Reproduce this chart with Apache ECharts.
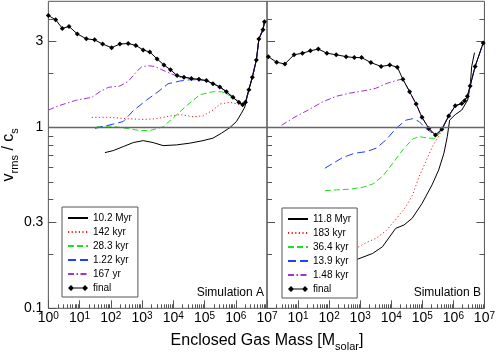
<!DOCTYPE html>
<html><head><meta charset="utf-8">
<script src="https://cdn.jsdelivr.net/npm/echarts@6/dist/echarts.min.js"></script>
<style>html,body{margin:0;padding:0;background:#fff}#c{width:498px;height:355px}</style>
</head><body><div id="c"></div>
<script>
// ---------- Simulation A ----------
const mA_final = [1, 1.72, 2.8, 4.58, 8.45, 16.4, 30.3, 54.7, 106, 195, 360, 631, 1084, 1774, 3020, 5010, 8130, 13200, 21900, 38000, 66100, 1.15e5, 1.86e5, 3.09e5, 5.01e5, 8.13e5, 1.26e6, 1.66e6, 2.04e6, 2.63e6, 3.39e6, 4.57e6, 5.5e6, 7.41e6, 8.32e6];
const vA_final = [4.17, 3.95, 3.54, 3.63, 3.30, 3.10, 3.06, 2.90, 2.77, 2.90, 2.92, 2.85, 2.69, 2.62, 2.40, 2.22, 2.09, 1.94, 1.90, 1.87, 1.85, 1.82, 1.75, 1.68, 1.58, 1.47, 1.38, 1.34, 1.38, 1.62, 1.90, 2.37, 3.09, 3.48, 3.85];
const mA_167yr = [1, 2.09, 8.07, 24.4, 44.7, 82.6, 195, 360, 667, 977, 1567, 2570, 4270, 7760, 16200];
const vA_167yr = [1.25, 1.32, 1.42, 1.47, 1.58, 1.67, 1.70, 1.80, 2.04, 2.17, 2.20, 2.18, 2.09, 2.00, 1.90];
const mA_1kyr = [31, 93.5, 249, 520, 1393, 3266, 6823, 16200, 33900, 70800];
const vA_1kyr = [0.99, 1.035, 1.08, 1.24, 1.42, 1.58, 1.75, 1.81, 1.84, 1.84];
const mA_28kyr = [35.2, 93.5, 320, 851, 1778, 4721, 9863, 26300, 70800, 1.86e5, 3.47e5, 5.62e5];
const vA_28kyr = [1.01, 1.02, 0.99, 0.963, 0.963, 1.01, 1.13, 1.32, 1.52, 1.58, 1.58, 1.52];
const mA_142kyr = [24.4, 93.5, 320, 1084, 2884, 7762, 16200, 42700, 89100, 1.86e5, 3.09e5, 6.46e5, 1.17e6];
const vA_142kyr = [1.14, 1.14, 1.12, 1.11, 1.12, 1.16, 1.18, 1.15, 1.16, 1.25, 1.35, 1.38, 1.35];
const mA_10Myr = [64.7, 119, 249, 520, 1084, 2265, 4721, 12600, 33600, 89100, 1.86e5, 3.47e5, 6.46e5, 1.05e6, 1.51e6, 1.95e6];
const vA_10Myr = [0.727, 0.746, 0.785, 0.826, 0.847, 0.826, 0.795, 0.802, 0.82, 0.847, 0.874, 0.931, 1.0, 1.08, 1.20, 1.30];
// index in the "final" curve where each earlier curve merges into it
const joinA = { y167: 18, k1: 21, k28: 25, k142: 27, m10: 29 };

// ---------- Simulation B ----------
const mB_final = [1.1, 2.04, 3.76, 7.45, 13.8, 24.9, 44.9, 84.5, 169, 352, 646, 1109, 2213, 4721, 8954, 15700, 23800, 39000, 63100, 97700, 1.62e5, 2.63e5, 4.27e5, 7.08e5, 1.15e6, 1.86e6, 2.29e6, 2.82e6, 3.47e6, 5.01e6, 9.12e6];
const vB_final = [2.47, 2.30, 2.25, 2.53, 2.58, 2.66, 2.72, 2.58, 2.53, 2.47, 2.44, 2.44, 2.29, 2.18, 2.22, 2.16, 1.85, 1.58, 1.35, 1.14, 0.99, 0.91, 0.98, 1.16, 1.32, 1.36, 1.41, 1.49, 1.70, 2.18, 2.94];
const mB_1kyr = [2.95, 6.92, 20.9, 63.1, 169, 447, 1349, 3162, 7413, 17800];
const vB_1kyr = [1.03, 1.13, 1.25, 1.39, 1.49, 1.55, 1.60, 1.65, 1.76, 1.84];
const mB_13kyr = [72.9, 135, 282, 661, 1567, 3266, 6823, 14200, 29700, 48600, 79400, 1.29e5, 2.14e5, 2.69e5];
const vB_13kyr = [0.596, 0.635, 0.685, 0.721, 0.736, 0.769, 0.855, 0.99, 1.10, 1.12, 1.08, 0.99, 0.93, 0.90];
const mB_36kyr = [72.9, 172, 457, 1230, 2570, 5370, 11200, 23400, 48600, 79400, 1.66e5, 2.69e5];
const vB_36kyr = [0.448, 0.452, 0.456, 0.468, 0.488, 0.540, 0.635, 0.752, 0.865, 0.891, 0.873, 0.873];
const mB_183kyr = [200, 826, 1567, 3266, 6823, 14200, 29700, 48600, 79400, 1.29e5, 2.12e5, 3.44e5];
const vB_183kyr = [0.195, 0.217, 0.231, 0.244, 0.269, 0.311, 0.365, 0.424, 0.536, 0.648, 0.785, 0.90];
const mB_11Myr = [200, 826, 2489, 5200, 13900, 25700, 47200, 98600, 2.06e5, 3.37e5, 4.97e5, 6.38e5, 7.59e5, 1.15e6, 1.86e6, 2.88e6, 3.47e6, 3.89e6, 4.79e6];
const vB_11Myr = [0.17, 0.187, 0.201, 0.219, 0.277, 0.289, 0.315, 0.381, 0.482, 0.583, 0.722, 0.892, 1.10, 1.18, 1.25, 1.42, 1.69, 2.18, 2.60];
const joinB = { k1: 16, k13: 22, k36: 22, k183: 22 };

// ---------- names & ticks ----------
const namesA = ['10.2 Myr', '142 kyr', '28.3 kyr', '1.22 kyr', '167 yr', 'final'];
const namesB = ['11.8 Myr', '183 kyr', '36.4 kyr', '13.9 kyr', '1.48 kyr', 'final'];
const xMajor = [1, 10, 100, 1e3, 1e4, 1e5, 1e6, 1e7];
const xLabelsB = [10, 100, 1e3, 1e4, 1e5, 1e6, 1e7];
const xMinor = [];
for (let k = 0; k < 7; k++) for (let m = 2; m <= 9; m++) xMinor.push(m * Math.pow(10, k));
const yLabels = [0.1, 0.3, 1, 3];
const yMinor = [0.2, 0.4, 0.5, 0.6, 0.7, 0.8, 0.9, 2, 4];

const FONT = 'Liberation Sans';
const AX = '#555';
const zip = (xs, ys) => xs.map((x, i) => [x, ys[i]]);
const joined = (xs, ys, fx, fy, from) => zip(xs, ys).concat(zip(fx, fy).slice(from));

const COL = { black: '#000000', red: '#ff1a1a', green: '#1ee01e', blue: '#2040ff', purple: '#a030e0' };
const DASH = { solid: 'solid', red: [1.2, 2.4], green: [6, 3], blue: [8, 4], purple: [6, 2.5, 1.5, 2.5] };

const xLabel = (vals) => ({
  show: true, customValues: vals, margin: 3, color: '#000',
  formatter: v => '{b|10}{sup|' + Math.round(Math.log10(v)) + '}',
  rich: {
    b: { fontFamily: FONT, fontSize: 14, lineHeight: 14, padding: [4, 0, 0, 0], verticalAlign: 'bottom', color: '#000' },
    sup: { fontFamily: FONT, fontSize: 10, lineHeight: 10, verticalAlign: 'top', color: '#000' }
  }
});

function xAxes(gi, labels) {
  const base = { gridIndex: gi, type: 'log', logBase: 10, min: 1, max: 1e7, position: 'bottom',
    axisLine: { show: false, onZero: false }, splitLine: { show: false }, minorTick: { show: false } };
  return [
    Object.assign({}, base, { axisTick: { show: true, inside: true, length: 8, customValues: xMajor, lineStyle: { color: AX, width: 1 } }, axisLabel: xLabel(labels) }),
    Object.assign({}, base, { axisTick: { show: true, inside: true, length: 4, customValues: xMinor, lineStyle: { color: AX, width: 1 } }, axisLabel: { show: false } })
  ];
}
function yAx(gi, pos, major, showLabel) {
  const base = { gridIndex: gi, type: 'log', logBase: 10, min: 0.1, max: 5, position: pos,
    axisLine: { show: false, onZero: false }, splitLine: { show: false }, minorTick: { show: false } };
  return Object.assign(base, major ? {
    axisTick: { show: true, inside: true, length: 8, customValues: yLabels, lineStyle: { color: AX, width: 1 } },
    axisLabel: showLabel ? { show: true, customValues: yLabels, fontFamily: FONT, fontSize: 14, color: '#000', margin: 5,
      formatter: v => String(+(+v).toPrecision(3)) } : { show: false }
  } : {
    axisTick: { show: true, inside: true, length: 5, customValues: yMinor, lineStyle: { color: AX, width: 1 } },
    axisLabel: { show: false }
  });
}

const yAxes = [yAx(0, 'left', true, true), yAx(0, 'left', false), yAx(1, 'left', true, false), yAx(1, 'left', false), yAx(1, 'right', true, false), yAx(1, 'right', false)];
Object.assign(yAxes[0], {
  name: '{n|v}{sub|rms}{n| / c}{sub|s}', nameLocation: 'middle', nameGap: 30,
  nameTextStyle: { fontFamily: FONT, color: '#000', rich: {
    n: { fontFamily: FONT, fontSize: 16, lineHeight: 16, verticalAlign: 'top', color: '#000' },
    sub: { fontFamily: FONT, fontSize: 11, lineHeight: 11, padding: [8, 0, 0, 0], verticalAlign: 'top', color: '#000' } } }
});

function line(name, data, color, dash, xi, yi, extra) {
  return Object.assign({ name, type: 'line', data, xAxisIndex: xi, yAxisIndex: yi, symbol: 'none', smooth: false,
    lineStyle: { color, width: 1, type: dash }, itemStyle: { color }, emphasis: { disabled: true }, animation: false }, extra || {});
}
const hline = { silent: true, symbol: ['none', 'none'], label: { show: false }, animation: false,
  lineStyle: { color: '#666', width: 1.3, type: 'solid' }, data: [{ yAxis: 1 }] };
const finalExtra = { symbol: 'diamond', symbolSize: 5, showSymbol: true, markLine: hline };

const series = [
  line(namesA[0], joined(mA_10Myr, vA_10Myr, mA_final, vA_final, joinA.m10), COL.black, 'solid', 0, 0),
  line(namesA[1], joined(mA_142kyr, vA_142kyr, mA_final, vA_final, joinA.k142), COL.red, DASH.red, 0, 0),
  line(namesA[2], joined(mA_28kyr, vA_28kyr, mA_final, vA_final, joinA.k28), COL.green, DASH.green, 0, 0),
  line(namesA[3], joined(mA_1kyr, vA_1kyr, mA_final, vA_final, joinA.k1), COL.blue, DASH.blue, 0, 0),
  line(namesA[4], joined(mA_167yr, vA_167yr, mA_final, vA_final, joinA.y167), COL.purple, DASH.purple, 0, 0),
  line(namesA[5], zip(mA_final, vA_final), COL.black, 'solid', 0, 0, finalExtra),
  line(namesB[0], zip(mB_11Myr, vB_11Myr), COL.black, 'solid', 2, 2),
  line(namesB[1], joined(mB_183kyr, vB_183kyr, mB_final, vB_final, joinB.k183), COL.red, DASH.red, 2, 2),
  line(namesB[2], joined(mB_36kyr, vB_36kyr, mB_final, vB_final, joinB.k36), COL.green, DASH.green, 2, 2),
  line(namesB[3], joined(mB_13kyr, vB_13kyr, mB_final, vB_final, joinB.k13), COL.blue, DASH.blue, 2, 2),
  line(namesB[4], joined(mB_1kyr, vB_1kyr, mB_final, vB_final, joinB.k1), COL.purple, DASH.purple, 2, 2),
  line(namesB[5], zip(mB_final, vB_final), COL.black, 'solid', 2, 2, finalExtra)
];

const finalIcon = 'path://M0,3L3,0L6,3L3,6Z M14,3L17,0L20,3L17,6Z M3,2.5L17,2.5L17,3.5L3,3.5Z';
const hiddenMark = { color: 'rgba(0,0,0,0)', borderColor: 'rgba(0,0,0,0)', borderWidth: 0, opacity: 0 };
const legendBase = { orient: 'vertical', itemGap: 2, itemWidth: 20, itemHeight: 8, selectedMode: false,
  backgroundColor: '#fff', borderColor: '#555', borderWidth: 1, borderRadius: 0, padding: [5, 6, 3, 5],
  textStyle: { fontFamily: FONT, fontSize: 10, lineHeight: 12, color: '#000' } };
const legData = names => names.map(n => n === 'final' ? { name: n, icon: finalIcon } : { name: n, itemStyle: hiddenMark });

const option = {
  animation: false,
  backgroundColor: '#fff',
  grid: [
    { left: 48, top: 1.3, width: 219, height: 307, show: true, borderColor: AX, borderWidth: 1, backgroundColor: 'transparent' },
    { left: 267, top: 1.3, width: 218.7, height: 307, show: true, borderColor: AX, borderWidth: 1, backgroundColor: 'transparent' }
  ],
  xAxis: xAxes(0, xMajor).concat(xAxes(1, xLabelsB)),
  yAxis: yAxes,
  legend: [
    Object.assign({}, legendBase, { left: 62, top: 207, data: legData(namesA) }),
    Object.assign({}, legendBase, { left: 282, top: 208, data: legData(namesB) })
  ],
  graphic: [
    { type: 'text', x: 264, y: 293, style: { text: 'Simulation A', fontFamily: FONT, fontSize: 12, fill: '#000', align: 'right', verticalAlign: 'middle' } },
    { type: 'text', x: 481, y: 293, style: { text: 'Simulation B', fontFamily: FONT, fontSize: 12, fill: '#000', align: 'right', verticalAlign: 'middle' } },
    { type: 'text', x: 267, y: 341, style: { text: '{n|Enclosed Gas Mass [M}{sub|solar}{n|]}', align: 'center', verticalAlign: 'middle', fill: '#000',
      rich: { n: { fontFamily: FONT, fontSize: 16, lineHeight: 16, verticalAlign: 'top', fill: '#000' },
              sub: { fontFamily: FONT, fontSize: 11, lineHeight: 11, padding: [8, 0, 0, 0], verticalAlign: 'top', fill: '#000' } } } }
  ],
  series
};
const chart = echarts.init(document.getElementById('c'), null, { renderer: 'canvas' });
chart.setOption(option);
</script></body></html>
